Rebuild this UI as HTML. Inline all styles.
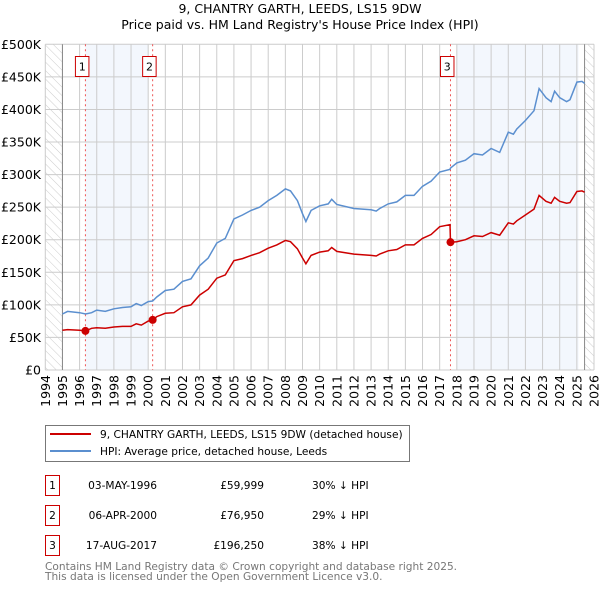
<!DOCTYPE html>
<html><head><meta charset="utf-8"><style>
body{margin:0;background:#fff;font-family:"DejaVu Sans","Liberation Sans",sans-serif;}
svg text{font-family:"DejaVu Sans","Liberation Sans",sans-serif;}
</style></head><body>
<svg id="c" width="600" height="590" xmlns="http://www.w3.org/2000/svg">
<defs><pattern id="hatch" width="6" height="6" patternUnits="userSpaceOnUse" patternTransform="rotate(-45)"><line x1="0" y1="0" x2="0" y2="6" stroke="#ccc" stroke-width="1"/></pattern></defs>
<text x="300" y="13" text-anchor="middle" font-size="12.5">9, CHANTRY GARTH, LEEDS, LS15 9DW</text>
<text x="300" y="29" text-anchor="middle" font-size="12.5">Price paid vs. HM Land Registry's House Price Index (HPI)</text>
<g id="plot"></g>
<g>
<rect x="45.5" y="425.5" width="364" height="36" fill="#fff" stroke="#777"/>
<line x1="50" y1="434" x2="91" y2="434" stroke="#cc0000" stroke-width="2"/>
<text x="100" y="438" font-size="10.6">9, CHANTRY GARTH, LEEDS, LS15 9DW (detached house)</text>
<line x1="50" y1="451" x2="91" y2="451" stroke="#5b8fcf" stroke-width="2"/>
<text x="100" y="455" font-size="10.6">HPI: Average price, detached house, Leeds</text>
</g>
<g id="table" font-size="10.6"></g>
<text x="45" y="570" font-size="10.6" fill="#777">Contains HM Land Registry data © Crown copyright and database right 2025.</text>
<text x="45" y="580" font-size="10.6" fill="#777">This data is licensed under the Open Government Licence v3.0.</text>
</svg>
<script>
const hpiYears=[1995.0,1995.3,1996.0,1996.35,1996.7,1997.0,1997.5,1998.0,1998.5,1999.0,1999.3,1999.6,2000.0,2000.26,2000.5,2001.0,2001.5,2002.0,2002.5,2003.0,2003.5,2004.0,2004.5,2005.0,2005.5,2006.0,2006.5,2007.0,2007.5,2008.0,2008.3,2008.7,2009.0,2009.2,2009.5,2010.0,2010.5,2010.7,2011.0,2012.0,2013.0,2013.3,2013.5,2014.0,2014.5,2015.0,2015.5,2016.0,2016.5,2017.0,2017.6,2017.63,2018.0,2018.5,2019.0,2019.5,2020.0,2020.5,2021.0,2021.3,2021.5,2022.0,2022.5,2022.8,2023.2,2023.5,2023.7,2024.0,2024.4,2024.6,2025.0,2025.3,2025.45];
const hpiValues=[86,90,88,86,88,92,90,94,96,97,102,99,105,106,112,122,124,136,140,160,172,195,202,232,238,245,250,260,268,278,275,260,240,228,245,252,255,262,254,248,246,244,248,255,258,268,268,282,290,304,308,310,318,322,332,330,340,334,365,362,370,383,398,432,418,412,428,418,412,415,442,443,440];
const priceValues=[61,62,61,60,64,65,64,66,67,67,71,69,75,77,82,87,88,97,100,115,124,141,146,168,171,176,180,187,192,199,197,186,172,163,176,181,183,188,182,178,176,175,178,183,185,192,192,202,208,220,223,196,197,200,206,205,211,207,226,224,229,238,247,268,259,256,265,259,256,257,274,275,273];
const saleYears=[1996.34,2000.26,2017.63];
const salePrices=[59.999,76.95,196.25];
const saleLabels=["1","2","3"];
const saleDates=["03-MAY-1996","06-APR-2000","17-AUG-2017"];
const salePriceText=["£59,999","£76,950","£196,250"];
const saleDiff=["30% ↓ HPI","29% ↓ HPI","38% ↓ HPI"];
const yTicks=[0,50,100,150,200,250,300,350,400,450,500];
const yTickLabels=["£0","£50K","£100K","£150K","£200K","£250K","£300K","£350K","£400K","£450K","£500K"];
const xYears=[];for(let y=1994;y<=2026;y++)xYears.push(y);

const NS="http://www.w3.org/2000/svg";
const X0=45.3,X1=594,Y0=370,Y1=44.3;
const xs=y=>X0+(y-1994)*(X1-X0)/32;
const ys=v=>Y0-(v/500)*(Y0-Y1);
function mk(tag,attrs,parent){const e=document.createElementNS(NS,tag);for(const k in attrs)e.setAttribute(k,attrs[k]);parent.appendChild(e);return e;}
const g=document.getElementById('plot');
let r=mk('rect',{x:xs(saleYears[0]),y:Y1,width:xs(2000)-xs(saleYears[0]),height:Y0-Y1,fill:'#eef3fc',opacity:0.7},g);


r=mk('rect',{x:xs(2018),y:Y1,width:xs(2025.1)-xs(2018),height:Y0-Y1,fill:'#eef3fc',opacity:0.7},g);


r=mk('rect',{x:X0,y:Y1,width:xs(1995)-X0,height:Y0-Y1,fill:'url(#hatch)'},g);


r=mk('rect',{x:xs(2025.45),y:Y1,width:X1-xs(2025.45),height:Y0-Y1,fill:'url(#hatch)'},g);


xYears.forEach((y,i)=>{
 const l=mk('line',{x1:xs(y),x2:xs(y),y1:Y1,y2:Y0,stroke:'#ccc','stroke-width':1},g);
 
 
 const t=mk('text',{x:0,y:0,'font-size':12.5,'text-anchor':'end',transform:`translate(${xs(y)+4.5},${Y0+5}) rotate(-90)`},g);
 t.textContent=String(y);
 
 
});
yTicks.forEach((v,i)=>{
 const l=mk('line',{x1:X0,x2:X1,y1:ys(v),y2:ys(v),stroke:'#ccc','stroke-width':1},g);
 
 
 const t=mk('text',{x:41,y:ys(v)+4.5,'font-size':12.5,'text-anchor':'end'},g);
 t.textContent=yTickLabels[i];
 
 
});
[1995,2025.45].forEach(y=>{const l=mk('line',{x1:xs(y),x2:xs(y),y1:Y1,y2:Y0,stroke:'#888','stroke-width':1},g);
 
 });
saleYears.forEach((y,i)=>{
 const l=mk('line',{x1:xs(y),x2:xs(y),y1:Y1,y2:Y0,stroke:'#e55','stroke-width':1,'stroke-dasharray':'2,3'},g);
 
 
 const b=mk('rect',{x:xs(y)-10,y:56.5,width:13.5,height:20,fill:'#fff',stroke:'#c00','stroke-width':1},g);
 
 
 const t=mk('text',{x:xs(y)-3.2,y:70.5,'font-size':11,'text-anchor':'middle'},g);
 t.textContent=saleLabels[i];
 
 
});
const path=(vals)=>hpiYears.map((y,i)=>(i?'L':'M')+xs(y).toFixed(1)+','+ys(vals[i]).toFixed(1)).join('');
let p=mk('path',{d:path(hpiValues),fill:'none',stroke:'#5b8fcf','stroke-width':1.5},g);


p=mk('path',{d:path(priceValues),fill:'none',stroke:'#cc0000','stroke-width':1.5},g);


saleYears.forEach((y,i)=>{const c=mk('circle',{cx:xs(y),cy:ys(salePrices[i]),r:4,fill:'#cc0000'},g);
 
 });
const tb=document.getElementById('table');
saleLabels.forEach((s,i)=>{
 const y0=476+i*30;
 const b=mk('rect',{x:45.5,y:y0-0.5,width:14,height:20,fill:'#fff',stroke:'#c00'},tb);
 
 
 let t=mk('text',{x:52.5,y:y0+13},tb);t.textContent=s;t.setAttribute('text-anchor','middle');
 
 
 t=mk('text',{x:157,y:y0+13,'text-anchor':'end'},tb);t.textContent=saleDates[i];
 
 
 t=mk('text',{x:264,y:y0+13,'text-anchor':'end'},tb);t.textContent=salePriceText[i];
 
 
 t=mk('text',{x:312,y:y0+13},tb);t.textContent=saleDiff[i];
 
 
});
</script>
</body></html>
